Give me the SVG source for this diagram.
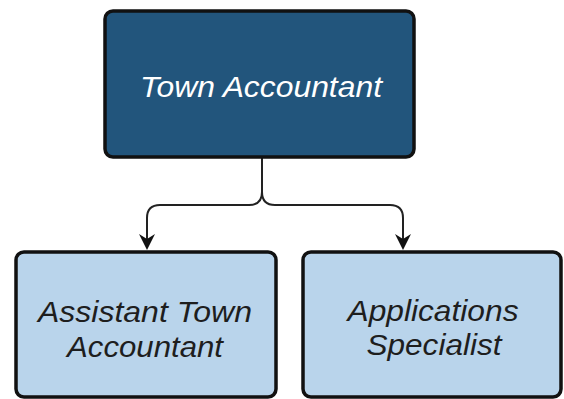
<svg xmlns="http://www.w3.org/2000/svg" width="564" height="399" viewBox="0 0 564 399">
<defs>
<style>
.box{stroke:#111;stroke-width:3.5}
.top{fill:#22557c}
.sub{fill:#b9d4eb}
.t{font-family:"Liberation Sans",Arial,sans-serif;font-style:italic;font-size:29px;text-anchor:middle}
.conn{fill:none;stroke:#222;stroke-width:2}
</style>
</defs>
<g id="connectors">
<path class="conn" d="M262,158 V192 Q262,205 249,205 H160 Q147,205 147,218 V248"/>
<path class="conn" d="M262,158 V192 Q262,205 275,205 H390 Q403,205 403,218 V248"/>
<path d="M139,234 L147,250 L155,234 L147,239 Z" fill="#111"/>
<path d="M395,234 L403,250 L411,234 L403,239 Z" fill="#111"/>
</g>
<g id="town-accountant">
<rect class="box top" x="105" y="11" width="309" height="146" rx="8"/>
<text class="t" x="261" y="97" fill="#fff" font-size="32" textLength="242" lengthAdjust="spacingAndGlyphs">Town Accountant</text>
</g>
<g id="assistant-town-accountant">
<rect class="box sub" x="16" y="252" width="260" height="145" rx="8"/>
<text class="t" x="145" y="322" fill="#1e1e1e" textLength="214" lengthAdjust="spacingAndGlyphs">Assistant Town</text>
<text class="t" x="145" y="357" fill="#1e1e1e" textLength="156" lengthAdjust="spacingAndGlyphs">Accountant</text>
</g>
<g id="applications-specialist">
<rect class="box sub" x="303" y="252" width="258" height="145" rx="8"/>
<text class="t" x="433" y="321" fill="#1e1e1e" textLength="171" lengthAdjust="spacingAndGlyphs">Applications</text>
<text class="t" x="434" y="355" fill="#1e1e1e" textLength="135" lengthAdjust="spacingAndGlyphs">Specialist</text>
</g>
</svg>
